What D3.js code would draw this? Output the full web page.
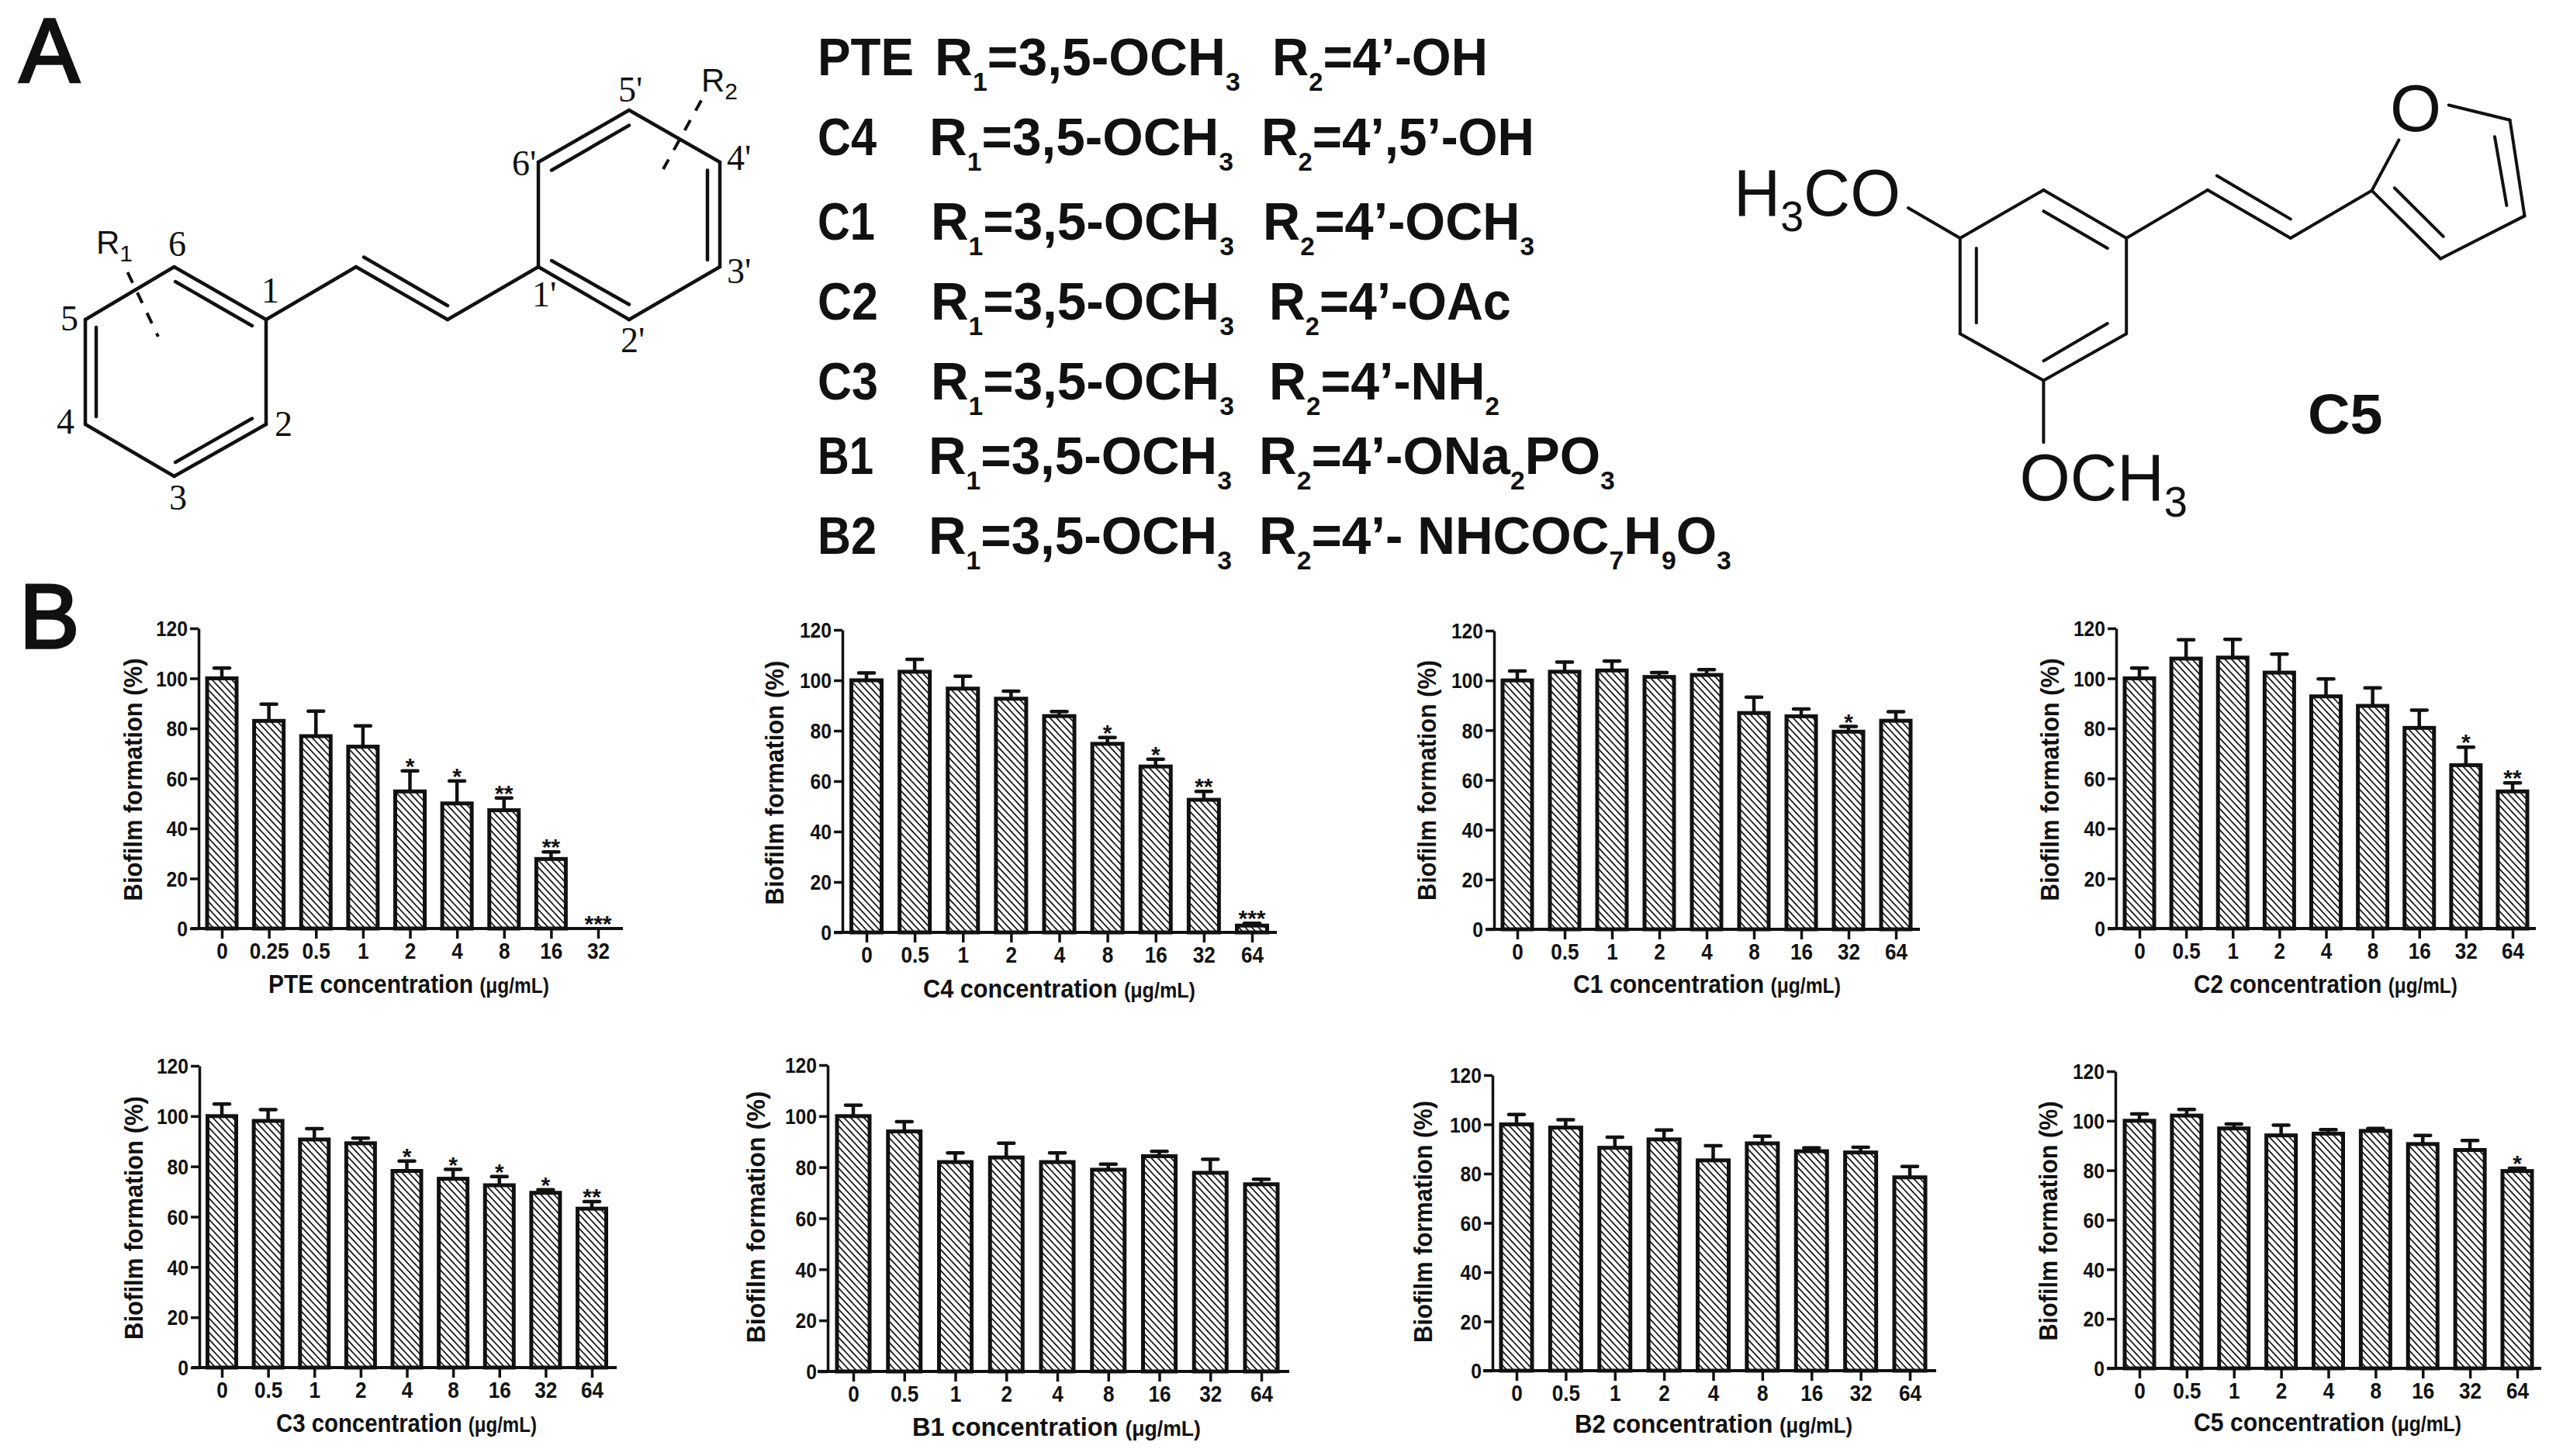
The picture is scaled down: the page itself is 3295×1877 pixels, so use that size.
<!DOCTYPE html>
<html><head><meta charset="utf-8">
<style>html,body{margin:0;padding:0;background:#fff}svg{display:block}text{fill:#111}</style>
<script src="https://cdn.jsdelivr.net/npm/d3@7"></script>
</head><body><svg id="fig" width="3295" height="1877" xmlns="http://www.w3.org/2000/svg"></svg>
<script>
// ---------- chart data ----------
const concPTE = ["0","0.25","0.5","1","2","4","8","16","32"];
const concStd = ["0","0.5","1","2","4","8","16","32","64"];
const yTickValues = [0,20,40,60,80,100,120];

const meanPTE = [100,83,76.9,72.7,54.8,50,47.3,27.8,0];
const capPTE  = [104.1,89.7,86.9,81,63,59,52.2,30.6,0];
const starPTE = ["","","","","*","*","**","**","***"];

const meanC4 = [100,103.4,96.7,92.7,85.8,74.8,65.8,52.6,2.7];
const capC4  = [102.9,108.3,101.6,95.7,87.6,77.3,68.7,55.9,3.6];
const starC4 = ["","","","","","*","*","**","***"];

const meanC1 = [100,103.5,104,101.4,102.2,86.9,85.6,79.4,83.8];
const capC1  = [103.8,107.4,107.8,103.2,104.3,93.3,88.5,81.5,87.4];
const starC1 = ["","","","","","","","*",""];

const meanC2 = [100,107.9,108.3,102.3,92.8,89,80.2,65.3,54.8];
const capC2  = [104.1,115.4,115.6,109.7,99.8,96.2,87.3,72.5,58.2];
const starC2 = ["","","","","","","","*","**"];

const meanC3 = [100,98.1,90.7,89.2,78.2,75.1,72.5,69.5,63.2];
const capC3  = [104.8,102.6,95,91.2,82.1,78.8,76,70.7,66];
const starC3 = ["","","","","*","*","*","*","**"];

const meanB1 = [100,94,82,83.8,82,79,84.3,77.8,73.3];
const capB1  = [104.3,97.8,85.6,89.4,85.6,81.2,86.2,83.1,75.3];
const starB1 = ["","","","","","","","",""];

const meanB2 = [100,98.7,90.5,93.9,85.4,92.3,89.1,88.6,78.5];
const capB2  = [104,101.9,94.8,97.7,91.3,95.2,90.5,90.7,82.9];
const starB2 = ["","","","","","","","",""];

const meanC5 = [100,102.1,96.9,94.1,94.8,95.9,90.6,88.2,79.7];
const capC5  = [102.8,104.6,98.7,98.2,96.4,96.9,94.1,92,80.8];
const starC5 = ["","","","","","","","","*"];

const panelNames = ["PTE","C4","C1","C2","C3","B1","B2","C5"];
const panelConc  = [concPTE,concStd,concStd,concStd,concStd,concStd,concStd,concStd];
const panelMean  = [meanPTE,meanC4,meanC1,meanC2,meanC3,meanB1,meanB2,meanC5];
const panelCap   = [capPTE,capC4,capC1,capC2,capC3,capB1,capB2,capC5];
const panelStar  = [starPTE,starC4,starC1,starC2,starC3,starB1,starB2,starC5];

// ---------- panel frames (layout only) ----------
// ax: y-axis x, top/base: y of 120/0, first/last: first/last category centre, x0/x1: x-axis ends,
// bw: bar outer width, tx/ty/tl: y-title baseline x, centre y, length, xt0/xt1/xty: x-title extents
const frames = [
 {ax:256, top:810,   base:1197, first:286,  last:771,  x0:246,  x1:803,  bw:43,tx:183, ty:1005,tl:313,xt0:346, xt1:708, xty:1280},
 {ax:1086,top:812,   base:1202, first:1117, last:1614, x0:1075, x1:1646, bw:44,tx:1010,ty:1009,tl:315,xt0:1190,xt1:1541,xty:1286},
 {ax:1926,top:813,   base:1198, first:1956, last:2444, x0:1915, x1:2475, bw:43,tx:1851,ty:1006,tl:310,xt0:2028,xt1:2373,xty:1280},
 {ax:2728,top:810,   base:1197, first:2758, last:3239, x0:2717, x1:3269, bw:43,tx:2654,ty:1005,tl:313,xt0:2828,xt1:3168,xty:1280},
 {ax:257, top:1374,  base:1763, first:286,  last:763,  x0:247,  x1:795,  bw:42,tx:184, ty:1570,tl:314,xt0:356, xt1:692, xty:1846},
 {ax:1067,top:1373,  base:1768, first:1100, last:1626, x0:1054, x1:1662, bw:47,tx:986, ty:1569,tl:325,xt0:1176,xt1:1548,xty:1851},
 {ax:1924,top:1386,  base:1767, first:1955, last:2462, x0:1912, x1:2496, bw:45,tx:1846,ty:1575,tl:312,xt0:2030,xt1:2388,xty:1847},
 {ax:2727,top:1381,  base:1764, first:2758, last:3245, x0:2716, x1:3276, bw:43,tx:2652,ty:1574,tl:309,xt0:2828,xt1:3173,xty:1845}
];

// ---------- compound table text ----------
const tableRows = [
 {label:"PTE",r1:"R_1=3,5-OCH_3",r2:"R_2=4’-OH",y:97, l:[1054,1178],a:[1205,1599],b:[1640,1918]},
 {label:"C4", r1:"R_1=3,5-OCH_3",r2:"R_2=4’,5’-OH",y:200,l:[1054,1130],a:[1198,1590],b:[1626,1978]},
 {label:"C1", r1:"R_1=3,5-OCH_3",r2:"R_2=4’-OCH_3",y:309,l:[1054,1128],a:[1200,1591],b:[1628,1978]},
 {label:"C2", r1:"R_1=3,5-OCH_3",r2:"R_2=4’-OAc",y:412,l:[1054,1132],a:[1200,1591],b:[1636,1948]},
 {label:"C3", r1:"R_1=3,5-OCH_3",r2:"R_2=4’-NH_2",y:515,l:[1054,1132],a:[1200,1591],b:[1636,1933]},
 {label:"B1", r1:"R_1=3,5-OCH_3",r2:"R_2=4’-ONa_2PO_3",y:611,l:[1054,1126],a:[1197,1588],b:[1623,2082]},
 {label:"B2", r1:"R_1=3,5-OCH_3",r2:"R_2=4’- NHCOC_7H_9O_3",y:714,l:[1054,1130],a:[1197,1588],b:[1623,2232]}
];

// ---------- drawing helpers ----------
const SANS = "'Liberation Sans',Arial,sans-serif", SERIF = "'Liberation Serif','Times New Roman',serif";
const svg = d3.select("#fig");
const ink = "#111";

// writes "A_1B" style strings with subscripts into a <text>
function rich(t, str, subSize, shift){
  const parts = str.split(/_(\d)/);   // odd entries are subscript digits
  let pending = 0;
  parts.forEach((p,i)=>{
    if(!p) return;
    const s = t.append("tspan").text(p);
    if(i%2){ s.attr("font-size",subSize).attr("dy",shift); pending = -shift; }
    else if(pending){ s.attr("dy",pending); pending = 0; }
  });
  return t;
}
// squeezes/stretches a text so that it spans exactly x0..x1
function fit(t, x0, x1, y){
  const w = t.node().getComputedTextLength();
  t.attr("transform",`translate(${x0},${y}) scale(${(x1-x0)/w},1)`);
  return t;
}

const defs = svg.append("defs");
const hatch = defs.append("pattern").attr("id","hatch").attr("patternUnits","userSpaceOnUse")
  .attr("width",6.2).attr("height",6.2).attr("patternTransform","rotate(47)");
hatch.append("rect").attr("width",6.2).attr("height",6.2).attr("fill","#fff");
hatch.append("rect").attr("width",6.2).attr("height",1.7).attr("fill",ink);

// ---------- bar panels ----------
panelNames.forEach((name,i)=>{
  const f = frames[i], conc = panelConc[i], mean = panelMean[i], cap = panelCap[i], star = panelStar[i];
  const y = d3.scaleLinear().domain([0,120]).range([f.base,f.top]);
  const x = d3.scalePoint().domain(conc).range([f.first,f.last]);
  const rows = conc.map((c,j)=>({c,m:mean[j],e:cap[j],s:star[j]}));
  const g = svg.append("g").attr("class","panel");
  const sw = 5, inner = f.bw - sw;

  // error bars behind bars
  g.selectAll("line.stem").data(rows).join("line").attr("class","stem")
    .attr("x1",d=>x(d.c)).attr("x2",d=>x(d.c)).attr("y1",d=>y(d.m)).attr("y2",d=>y(d.e))
    .attr("stroke",ink).attr("stroke-width",4.5);
  g.selectAll("line.cap").data(rows.filter(d=>d.e>d.m)).join("line").attr("class","cap")
    .attr("x1",d=>x(d.c)-10).attr("x2",d=>x(d.c)+10).attr("y1",d=>y(d.e)).attr("y2",d=>y(d.e))
    .attr("stroke",ink).attr("stroke-width",4.5).attr("stroke-linecap","round");

  // bars
  g.selectAll("rect.bar").data(rows).join("rect").attr("class","bar")
    .attr("x",d=>x(d.c)-inner/2).attr("width",inner)
    .attr("y",d=>y(d.m)).attr("height",d=>y(0)-y(d.m))
    .attr("fill","url(#hatch)").attr("stroke",ink).attr("stroke-width",sw);

  // significance marks
  g.selectAll("text.star").data(rows.filter(d=>d.s)).join("text").attr("class","star")
    .attr("x",d=>x(d.c)).attr("y",d=>y(d.e)+4).attr("text-anchor","middle")
    .attr("font-family",SANS).attr("font-weight","bold").attr("font-size",30).text(d=>d.s);

  // axes
  const ya = g.append("g").attr("transform",`translate(${f.ax},0)`)
    .call(d3.axisLeft(y).tickValues(yTickValues).tickSize(11).tickSizeOuter(0).tickPadding(3));
  ya.select(".domain").attr("stroke",ink).attr("stroke-width",3.5);
  ya.selectAll(".tick line").attr("stroke",ink).attr("stroke-width",3.5);
  ya.selectAll(".tick text").attr("font-family",SANS).attr("font-weight","bold").attr("font-size",28)
    .attr("x",-14/0.88).attr("dy","0.35em").attr("transform","scale(0.88,1)").attr("fill",ink);

  const xa = g.append("g").attr("transform",`translate(0,${f.base})`)
    .call(d3.axisBottom(x).tickSize(13).tickSizeOuter(0));
  xa.select(".domain").remove();
  xa.selectAll(".tick line").attr("stroke",ink).attr("stroke-width",3.5);
  xa.selectAll(".tick text").attr("font-family",SANS).attr("font-weight","bold").attr("font-size",29)
    .attr("y",39).attr("dy",0).attr("transform","scale(0.9,1)").attr("fill",ink);
  xa.append("line").attr("x1",f.x0).attr("x2",f.x1).attr("stroke",ink).attr("stroke-width",4);

  // axis titles
  const yt = g.append("text").attr("font-family",SANS).attr("font-weight","bold").attr("font-size",33)
    .attr("text-anchor","middle").text("Biofilm formation (%)");
  const yk = f.tl / yt.node().getComputedTextLength();
  yt.attr("transform",`translate(${f.tx},${f.ty}) rotate(-90) scale(${yk},1)`);

  const xt = g.append("text").attr("font-family",SANS).attr("font-weight","bold").attr("font-size",33);
  xt.append("tspan").text(name+" concentration ");
  xt.append("tspan").attr("font-size",27).text("(μg/mL)");
  fit(xt,f.xt0,f.xt1,f.xty);
});

// ---------- compound table ----------
const tbl = svg.append("g").attr("font-family",SANS).attr("font-weight","bold").attr("font-size",68);
tableRows.forEach(r=>{
  fit(tbl.append("text").text(r.label), r.l[0], r.l[1], r.y);
  fit(rich(tbl.append("text"), r.r1, 34, 20), r.a[0], r.a[1], r.y);
  fit(rich(tbl.append("text"), r.r2, 34, 20), r.b[0], r.b[1], r.y);
});

// ---------- panel letters ----------
svg.append("text").attr("x",25).attr("y",106).attr("font-family",SANS).attr("font-size",116)
  .attr("stroke",ink).attr("stroke-width",3.5).text("A");
svg.append("text").attr("x",25).attr("y",835).attr("font-family",SANS).attr("font-size",116)
  .attr("stroke",ink).attr("stroke-width",3.5).text("B");

// ---------- structural formulae ----------
function bonds(parent, list, sw){
  parent.selectAll(null).data(list).join("line")
    .attr("x1",d=>d[0]).attr("y1",d=>d[1]).attr("x2",d=>d[2]).attr("y2",d=>d[3])
    .attr("stroke",ink).attr("stroke-width",sw).attr("stroke-linecap","round");
}
const stilbene = svg.append("g");
bonds(stilbene,[
 [224.5,344,343,412],[343,412,343,547],[343,547,224.5,614],[224.5,614,110,547],[110,547,110,412],[110,412,224.5,344],
 [226,363,325,420],[124,422,124,537],[226,596,325,539.5],
 [343,412,459,344],[459,344,577,412],[577,412,694,344],[469,331.5,577,394],
 [694,344,811,412],[811,412,928,344],[928,344,928,209],[928,209,811,142],[811,142,694,209],[694,209,694,344],
 [711,336,811,392.5],[912,219.5,912,335],[711,219.5,811,161.6]
],4.5);
const dashed = svg.append("g");
bonds(dashed,[[164.5,351,204,434],[904,129.5,855,218]],4);
dashed.selectAll("line").attr("stroke-dasharray","15 14").attr("stroke-linecap","butt");

const atomLabels = [["1",337,390],["2",354,562],["3",218,657],["4",73,559],["5",78,426],["6",217,330],
 ["1'",686,395],["2'",800,454],["3'",937,365],["4'",937,219],["5'",797,131],["6'",660,226]];
stilbene.selectAll(null).data(atomLabels).join("text").attr("x",d=>d[1]).attr("y",d=>d[2])
  .attr("font-family",SERIF).attr("font-size",46).text(d=>d[0]);
rich(stilbene.append("text").attr("x",124).attr("y",327).attr("font-family",SANS).attr("font-size",42),"R_1",30,10);
rich(stilbene.append("text").attr("x",904).attr("y",118).attr("font-family",SANS).attr("font-size",42),"R_2",30,10);

const furan = svg.append("g");
bonds(furan,[
 [2634.4,244.9,2741.2,307],[2741.2,307,2741.2,430.2],[2741.2,430.2,2634.4,490.6],[2634.4,490.6,2526.8,430.2],[2526.8,430.2,2526.8,307],[2526.8,307,2634.4,244.9],
 [2634.4,272.2,2716.8,320],[2547.8,320,2547.8,416.3],[2634.4,465.3,2716.8,417.1],
 [2526.8,307,2459.8,268],[2634.4,490.6,2634.4,570.2],
 [2741.2,307,2846,244.9],[2846,244.9,2952.8,307],[2952.8,307,3057.5,245.7],[2857.8,226.5,2952.8,282.4],
 [3057.5,245.7,3092.5,180.4],[3057.5,245.7,3146.2,333.5],[3146.2,333.5,3254.5,278.4],[3254.5,278.4,3235.6,154.7],[3235.6,154.7,3156.7,135.5],
 [3086.9,242.4,3149.7,304.9],[3216,176.3,3231.4,264.9]
],4);
furan.append("text").attr("x",3114).attr("y",168.5).attr("text-anchor","middle").attr("font-family",SANS).attr("font-size",85).text("O");
fit(rich(furan.append("text").attr("font-family",SANS).attr("font-size",85),"H_3CO",55,20),2235,2450,278);
fit(rich(furan.append("text").attr("font-family",SANS).attr("font-size",85),"OCH_3",55,21),2603.6,2820,644.5);
fit(furan.append("text").attr("font-family",SANS).attr("font-weight","bold").attr("font-size",72).text("C5"),2975,3071.5,559);
</script></body></html>
